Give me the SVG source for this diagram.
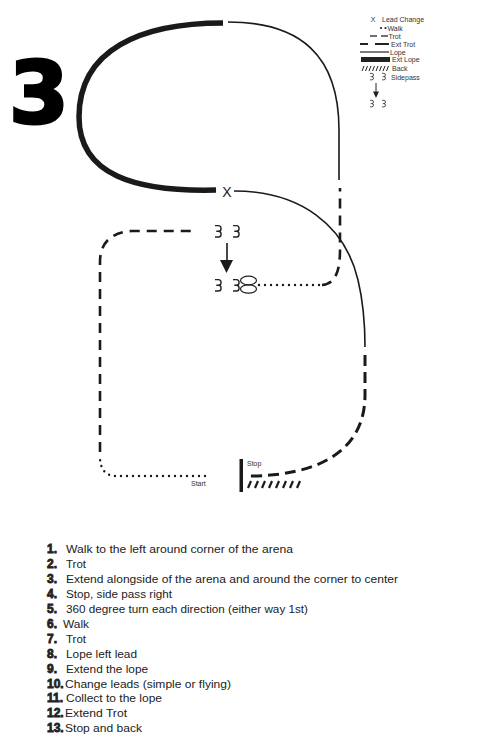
<svg xmlns="http://www.w3.org/2000/svg" width="501" height="740" viewBox="0 0 501 740">
<style>
.ln{fill:none;stroke:#1a1a1a;stroke-linecap:butt}
.lope{stroke-width:1.6}
.elope{stroke-width:5.5}
.trot{stroke-width:2.6;stroke-dasharray:10 7}
.etrot{stroke-width:3;stroke-dasharray:11 6}
.walk{stroke-width:2.4;stroke-linecap:round;stroke-dasharray:0 6}
.lg{font-family:"Liberation Sans",Arial,sans-serif;font-size:7px;fill:#333}
.num{font-family:"Liberation Sans",Arial,sans-serif;font-weight:bold;font-size:12px;fill:#222;stroke:#222;stroke-width:0.8}
.tx{font-family:"Liberation Sans",Arial,sans-serif;font-size:11.5px;fill:#222}
.hoof{fill:none;stroke:#222;stroke-width:1.3}
</style>
<defs>
<path id="hoof" d="M0,0.6 H3.2 A2.6,2.7 0 0 1 3.2,6 H1.2 M3.2,6 A2.6,2.7 0 0 1 3.2,11.4 H0"/>
</defs>
<rect width="501" height="740" fill="#fff"/>

<g id="title">
<text x="9" y="123" font-family="'DejaVu Sans','Liberation Sans',sans-serif" font-weight="bold" font-size="86" fill="#000" stroke="#000" stroke-width="3">3</text>
</g>

<g id="connectors">
<path id="walk1" class="ln walk" d="M205,476 L116,476 C104,476 100,467 100,457"/>
<path id="trot1" class="ln trot" d="M100,452 L100,262 C100,242 112,232 132,231 L196,231"/>
<path id="walk2" class="ln walk" d="M259,285 L320,285"/>
<path id="trot2" class="ln trot" d="M322,285 C335,284 340,272 340,250 L340,188"/>
<path id="lope1" class="ln lope" d="M228,22 C300,22 339,55 339,130 L339,180"/>
<path id="extlope" class="ln elope" d="M223,23 C140,23 79,50 79,117 C79,175 135,192 216,190"/>
<path id="lope2" class="ln lope" d="M234,191 C300,191 345,225 358,280 C364,305 365,325 365,347"/>
<path id="etrot" class="ln etrot" d="M365,355 L365,395 C365,450 320,476 248,476"/>
</g>

<g id="leadchange">
<text x="227" y="197" text-anchor="middle" font-family="'Liberation Sans',Arial,sans-serif" font-size="14" fill="#1a1a1a">X</text>
</g>

<g id="sidepass">
<use href="#hoof" class="hoof" transform="translate(215,225) scale(1.05)"/>
<use href="#hoof" class="hoof" transform="translate(233,225) scale(1.05)"/>
<line x1="227" y1="243" x2="227" y2="262" stroke="#1a1a1a" stroke-width="1.6"/>
<polygon points="220,260 233,260 226.5,273" fill="#1a1a1a"/>
<use href="#hoof" class="hoof" transform="translate(215,279) scale(1.05)"/>
<use href="#hoof" class="hoof" transform="translate(233,279) scale(1.05)"/>
</g>

<g id="turn360">
<ellipse cx="248.5" cy="280.5" rx="8" ry="4.3" fill="none" stroke="#222" stroke-width="1.2"/>
<ellipse cx="248.5" cy="289" rx="8" ry="4.2" fill="none" stroke="#222" stroke-width="1.2"/>
</g>

<g id="start">
<text x="191" y="486" class="lg" font-size="6">Start</text>
</g>

<g id="stop">
<rect x="239.5" y="459" width="3.5" height="33" fill="#1a1a1a"/>
<text x="247" y="466" class="lg" font-size="6">Stop</text>
</g>

<g id="back" stroke="#1a1a1a" stroke-width="2.2">
<line x1="248" y1="488" x2="251" y2="481"/>
<line x1="255" y1="488" x2="258" y2="481"/>
<line x1="262" y1="488" x2="265" y2="481"/>
<line x1="269" y1="488" x2="272" y2="481"/>
<line x1="276" y1="488" x2="279" y2="481"/>
<line x1="283" y1="488" x2="286" y2="481"/>
<line x1="290" y1="488" x2="293" y2="481"/>
<line x1="297" y1="488" x2="300" y2="481"/>
</g>

<g id="legend">
<text x="373" y="22" class="lg" text-anchor="middle">X</text>
<text x="382" y="22" class="lg">Lead Change</text>
<circle cx="381" cy="28" r="1.1" fill="#222"/>
<circle cx="385.5" cy="28" r="1.1" fill="#222"/>
<text x="387.5" y="30.5" class="lg">Walk</text>
<line x1="370" y1="36" x2="377" y2="36" stroke="#222" stroke-width="1.3"/>
<line x1="381" y1="36" x2="388" y2="36" stroke="#222" stroke-width="1.3"/>
<text x="388.5" y="38.5" class="lg">Trot</text>
<line x1="360" y1="44" x2="368" y2="44" stroke="#222" stroke-width="2"/>
<line x1="375" y1="44" x2="389" y2="44" stroke="#222" stroke-width="2"/>
<text x="391" y="46.5" class="lg">Ext Trot</text>
<line x1="360" y1="52" x2="389" y2="52" stroke="#222" stroke-width="1.2"/>
<text x="390" y="54.5" class="lg">Lope</text>
<rect x="361" y="57" width="29" height="5" fill="#222"/>
<text x="392" y="62" class="lg">Ext Lope</text>
<g stroke="#222" stroke-width="1">
<line x1="362" y1="71" x2="364" y2="66"/>
<line x1="365.5" y1="71" x2="367.5" y2="66"/>
<line x1="369" y1="71" x2="371" y2="66"/>
<line x1="372.5" y1="71" x2="374.5" y2="66"/>
<line x1="376" y1="71" x2="378" y2="66"/>
<line x1="379.5" y1="71" x2="381.5" y2="66"/>
<line x1="383" y1="71" x2="385" y2="66"/>
<line x1="386.5" y1="71" x2="388.5" y2="66"/>
</g>
<text x="392" y="71" class="lg">Back</text>
<use href="#hoof" class="hoof" stroke-width="1.6" transform="translate(370,73) scale(0.6)"/>
<use href="#hoof" class="hoof" stroke-width="1.6" transform="translate(382,73) scale(0.6)"/>
<text x="391" y="79.5" class="lg">Sidepass</text>
<line x1="376" y1="83" x2="376" y2="93" stroke="#222" stroke-width="1"/>
<polygon points="373,91.5 379,91.5 376,98" fill="#222"/>
<use href="#hoof" class="hoof" stroke-width="1.6" transform="translate(370,100) scale(0.6)"/>
<use href="#hoof" class="hoof" stroke-width="1.6" transform="translate(382,100) scale(0.6)"/>
</g>

<g id="steps">
<text x="47" y="553" class="num">1.</text><text x="66" y="553" class="tx" textLength="227" lengthAdjust="spacingAndGlyphs">Walk to the left around corner of the arena</text>
<text x="47" y="568" class="num">2.</text><text x="66" y="568" class="tx" textLength="20" lengthAdjust="spacingAndGlyphs">Trot</text>
<text x="47" y="583" class="num">3.</text><text x="66" y="583" class="tx" textLength="332" lengthAdjust="spacingAndGlyphs">Extend alongside of the arena and around the corner to center</text>
<text x="47" y="598" class="num">4.</text><text x="66" y="598" class="tx" textLength="106" lengthAdjust="spacingAndGlyphs">Stop, side pass right</text>
<text x="47" y="613" class="num">5.</text><text x="66" y="613" class="tx" textLength="242" lengthAdjust="spacingAndGlyphs">360 degree turn each direction (either way 1st)</text>
<text x="47" y="628" class="num">6.</text><text x="63" y="628" class="tx" textLength="26" lengthAdjust="spacingAndGlyphs">Walk</text>
<text x="47" y="643" class="num">7.</text><text x="66" y="643" class="tx" textLength="20" lengthAdjust="spacingAndGlyphs">Trot</text>
<text x="47" y="658" class="num">8.</text><text x="66" y="658" class="tx" textLength="71" lengthAdjust="spacingAndGlyphs">Lope left lead</text>
<text x="47" y="673" class="num">9.</text><text x="66" y="673" class="tx" textLength="82" lengthAdjust="spacingAndGlyphs">Extend the lope</text>
<text x="47" y="688" class="num">10.</text><text x="65" y="688" class="tx" textLength="166" lengthAdjust="spacingAndGlyphs">Change leads (simple or flying)</text>
<text x="47" y="702" class="num">11.</text><text x="66" y="702" class="tx" textLength="96" lengthAdjust="spacingAndGlyphs">Collect to the lope</text>
<text x="47" y="717" class="num">12.</text><text x="65" y="717" class="tx" textLength="62" lengthAdjust="spacingAndGlyphs">Extend Trot</text>
<text x="47" y="732" class="num">13.</text><text x="65" y="732" class="tx" textLength="77" lengthAdjust="spacingAndGlyphs">Stop and back</text>
</g>
</svg>
